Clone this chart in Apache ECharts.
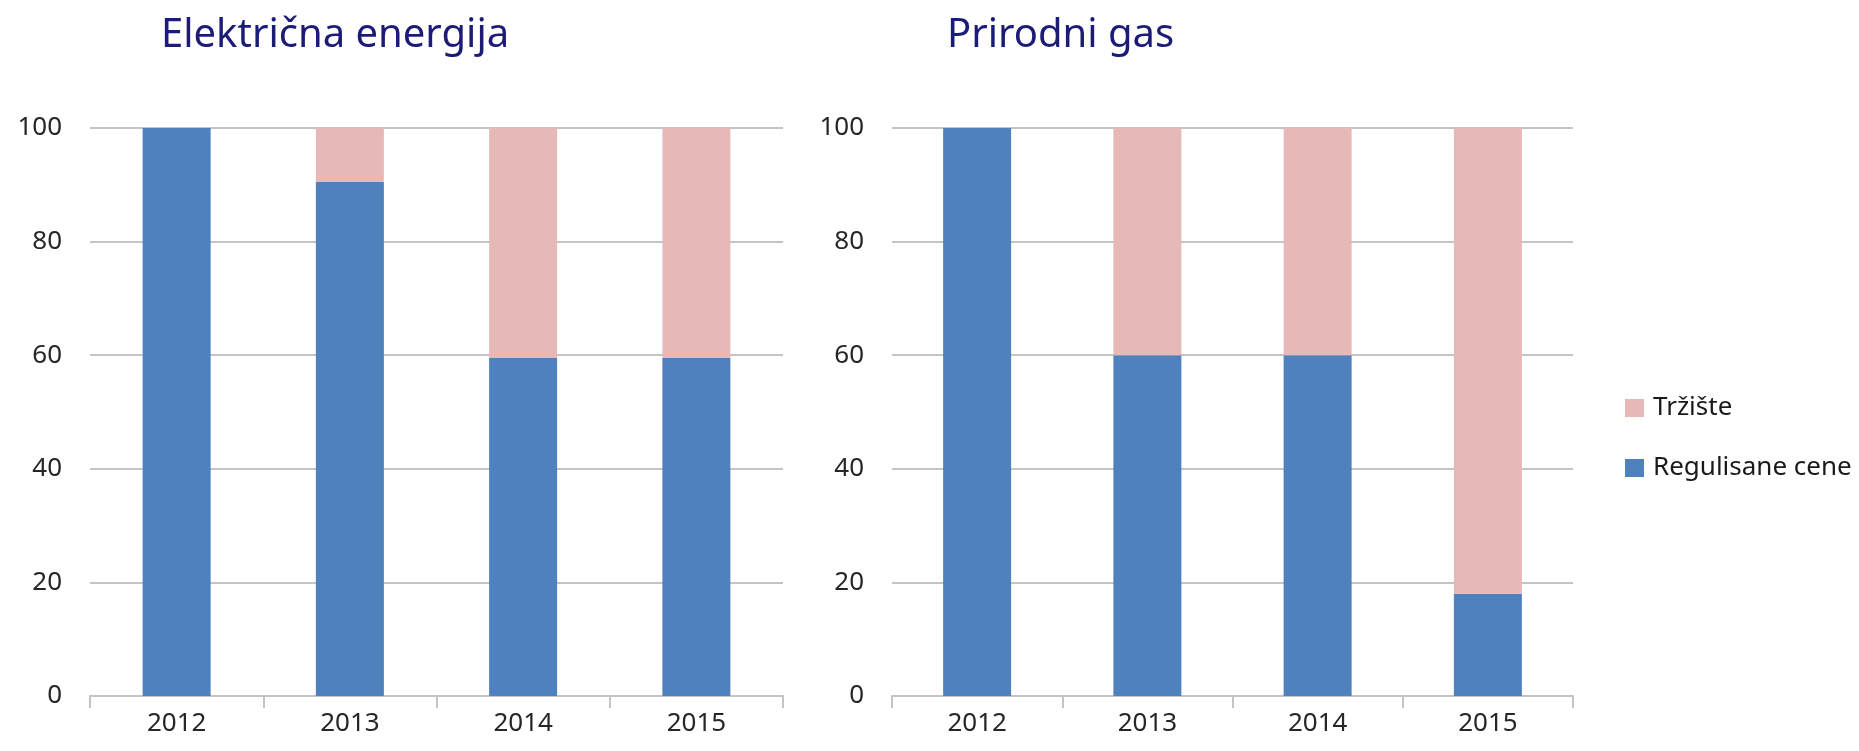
<!DOCTYPE html>
<html>
<head>
<meta charset="utf-8">
<script src="https://cdn.jsdelivr.net/npm/echarts@6/dist/echarts.min.js"></script>
<style>
html,body{margin:0;padding:0;background:#fff;}
#c{width:1859px;height:751px;}
</style>
</head>
<body>
<div id="c"></div>
<script>
const categories = ['2012', '2013', '2014', '2015'];
const titles = ['Električna energija', 'Prirodni gas'];
const seriesNames = ['Regulisane cene', 'Tržište'];
const elRegulated = [100, 90.5, 59.5, 59.5];
const elMarket = [0, 9.5, 40.5, 40.5];
const gasRegulated = [100, 60, 60, 18];
const gasMarket = [0, 40, 40, 82];
const yTicks = { min: 0, max: 100, interval: 20 };

const BLUE = '#4F81BD';
const PINK = '#E6B9B8';
const GRID = '#c4c4c4';
const FONT = 'Noto Sans';

function xAxis(idx) {
  return {
    type: 'category', gridIndex: idx, data: categories,
    axisLine: { show: true, lineStyle: { color: GRID, width: 2 } },
    axisTick: { show: true, length: 12, lineStyle: { color: GRID, width: 2 } },
    axisLabel: { fontFamily: FONT, fontSize: 26, color: '#262626', margin: 15 }
  };
}
function yAxis(idx) {
  return {
    type: 'value', gridIndex: idx, min: yTicks.min, max: yTicks.max, interval: yTicks.interval,
    axisLine: { show: false }, axisTick: { show: false },
    splitLine: { lineStyle: { color: GRID, width: 2 } },
    axisLabel: { fontFamily: FONT, fontSize: 26, color: '#262626', margin: 28 }
  };
}
function bars(idx, name, data, color) {
  return {
    type: 'bar', name: name, xAxisIndex: idx, yAxisIndex: idx, stack: 's' + idx,
    data: data, barWidth: 68, itemStyle: { color: color }, animation: false
  };
}

const chart = echarts.init(document.getElementById('c'), null, { renderer: 'canvas' });
chart.setOption({
  animation: false,
  backgroundColor: '#fff',
  title: [
    { text: titles[0], left: 156, top: 11, textStyle: { fontFamily: FONT, fontSize: 40, fontWeight: 'normal', color: '#1c1c78' } },
    { text: titles[1], left: 942, top: 11, textStyle: { fontFamily: FONT, fontSize: 40, fontWeight: 'normal', color: '#1c1c78' } }
  ],
  legend: {
    orient: 'vertical', left: 1620, top: 390,
    data: [seriesNames[1], seriesNames[0]],
    itemWidth: 19, itemHeight: 18, itemGap: 34, icon: 'rect',
    textStyle: { fontFamily: FONT, fontSize: 26, color: '#1a1a1a', padding: [0, 0, 0, 4] }
  },
  grid: [
    { left: 90, right: 1859 - 783, top: 128, bottom: 751 - 696 },
    { left: 892, right: 1859 - 1573, top: 128, bottom: 751 - 696 }
  ],
  xAxis: [xAxis(0), xAxis(1)],
  yAxis: [yAxis(0), yAxis(1)],
  series: [
    bars(0, seriesNames[0], elRegulated, BLUE),
    bars(0, seriesNames[1], elMarket, PINK),
    bars(1, seriesNames[0], gasRegulated, BLUE),
    bars(1, seriesNames[1], gasMarket, PINK)
  ]
});
</script>
</body>
</html>
